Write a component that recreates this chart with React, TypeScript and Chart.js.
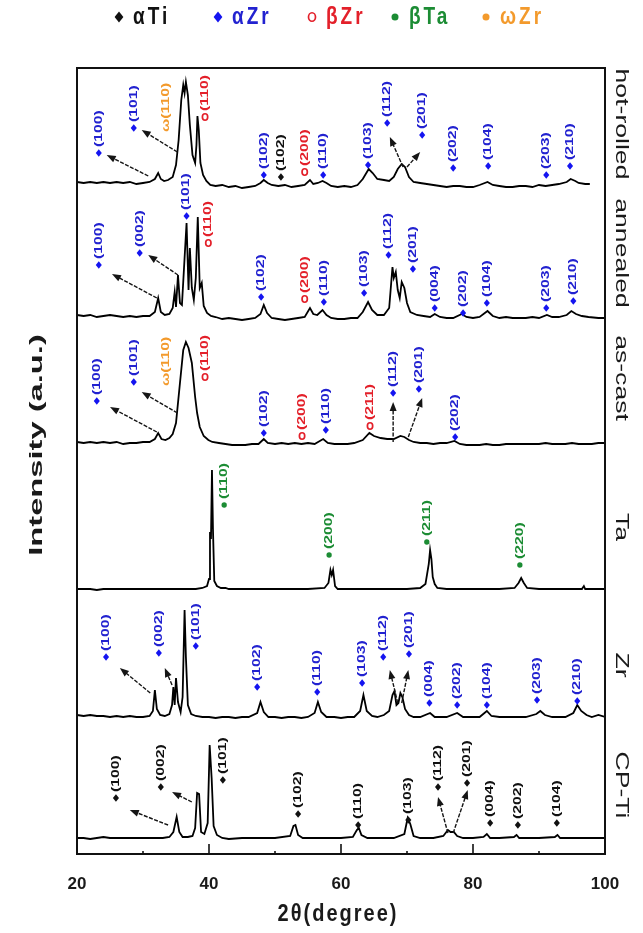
import React, { useEffect, useRef } from 'react';
import { Chart, registerables } from 'chart.js';

Chart.register(...registerables);

// ---------- data (x = 2θ, y = intensity above each pattern's baseline) ----------
const xTickLabels = ['20', '40', '60', '80', '100'];
const panelNames = ['hot-rolled', 'annealed', 'as-cast', 'Ta', 'Zr', 'CP-Ti'];
const panelOffsets = [669, 536, 411, 265, 137, 16];
const panelNameY = [730, 601, 476, 327, 189, 69];

const hotRolled = [
  [20, 3], [21, 2], [22, 3], [23, 2], [24, 3], [25, 2], [26, 3], [27, 2], [28, 3], [29, 1], [30, 2], [31, 3],
  [31.8, 6], [32.3, 12], [32.7, 6], [33.2, 4], [33.8, 5], [34.5, 8], [35.0, 20], [35.4, 45], [35.8, 85],
  [36.1, 100], [36.3, 92], [36.5, 103], [36.8, 90], [37.1, 60], [37.5, 30], [37.9, 22], [38.1, 40],
  [38.25, 69], [38.45, 55], [38.7, 22], [39.1, 10], [39.6, 4], [40.2, 0], [41, -1], [42, 0], [43, -2],
  [44, -1], [45, -3], [46, -2], [47, -1], [47.8, 2], [48.3, 5], [48.9, 2], [49.5, 0], [50.5, -1], [51.5, 0],
  [52.5, -2], [53.5, -1], [54.5, 0], [55.3, 5], [55.8, 1], [56.5, 2], [57.2, 4], [57.8, 2], [58.5, -1],
  [59.5, -2], [60.5, -1], [61.5, -2], [62.5, 0], [63.3, 6], [64.2, 16], [64.8, 12], [65.5, 6], [66.5, 5],
  [67.3, 4], [68.0, 8], [68.6, 16], [69.2, 21], [69.7, 18], [70.3, 8], [71, 3], [72, 2], [73, 1], [74, 0],
  [75, -1], [76, -2], [77, -1], [78, -1], [79, -2], [80, -2], [81, 0], [82.2, 3], [83, 0], [84, -1], [85, -2],
  [86, -2], [87, -1], [88, -1], [89, -2], [90, 0], [91, -1], [92, 0], [93, 1], [94.2, 3], [94.8, 6],
  [95.5, 4], [96, 2], [97, 1], [97.7, 1],
];

const annealed = [
  [20, 3], [21, 2], [22, 3], [23, 1], [24, 2], [25, 3], [26, 2], [27, 1], [28, 2], [29, 1], [30, 2], [31, 2],
  [31.8, 6], [32.3, 20], [32.7, 6], [33.3, 3], [34.0, 4], [34.5, 10], [34.8, 26], [35.0, 11], [35.3, 43],
  [35.6, 15], [35.9, 13], [36.3, 60], [36.6, 95], [36.9, 28], [37.1, 70], [37.4, 30], [37.7, 18], [38.0, 40],
  [38.3, 101], [38.6, 30], [38.9, 35], [39.2, 12], [39.7, 5], [40.3, 2], [41, 1], [42, -1], [43, 0], [44, -1],
  [45, -2], [46, -1], [47, 0], [47.8, 4], [48.3, 13], [48.8, 5], [49.5, 0], [50.5, -1], [51.5, -2],
  [52.5, -1], [53.5, 0], [54.5, 1], [55.3, 10], [55.8, 4], [56.4, 3], [57.2, 8], [57.8, 3], [58.5, 0],
  [59.5, -1], [60.5, -1], [61.5, 0], [62.5, 0], [63.3, 6], [64.1, 16], [64.7, 8], [65.5, 3], [66.5, 3],
  [67.3, 10], [67.8, 51], [68.0, 40], [68.3, 46], [68.6, 28], [68.9, 20], [69.2, 36], [69.6, 30], [70.0, 15],
  [70.5, 6], [71.5, 3], [72.5, 2], [73.5, 1], [74.2, 4], [75, 1], [76, 0], [77, 0], [78.3, 4], [79, 1],
  [80, 0], [81, 1], [82.2, 7], [83, 2], [84, 0], [85, 1], [86, 0], [87, 0], [88, 0], [89, 1], [90, 0],
  [91.2, 3], [92, 1], [93, 1], [94.2, 3], [94.9, 7], [95.6, 4], [96.5, 2], [97.5, 1], [99, 0], [100, 0],
];

const asCast = [
  [20, 1], [21, 0], [22, 1], [23, 0], [24, 1], [25, 0], [26, 1], [27, -1], [28, 0], [29, 0], [30, 1], [31, 1],
  [31.8, 4], [32.3, 10], [32.8, 4], [33.4, 3], [34.0, 5], [34.5, 9], [35.0, 20], [35.6, 60], [36.1, 93],
  [36.5, 101], [36.9, 95], [37.4, 80], [37.9, 46], [38.2, 30], [38.6, 16], [39.2, 7], [39.9, 3], [40.5, 1],
  [41.5, 0], [42.5, -1], [43.5, -2], [44.5, -2], [45.5, -2], [46.5, -1], [47.5, -1], [48.3, 4], [48.9, 0],
  [50, -1], [51, 0], [52, -1], [53, 0], [54, -1], [55, 0], [56, -1], [57.3, 4], [58, 0], [59, -1], [60, -1],
  [61, -1], [62, 0], [63.3, 3], [64.3, 10], [65.0, 7], [66.0, 5], [67.0, 4], [68.0, 4], [69.0, 7], [69.6, 6],
  [70.3, 3], [71, 1], [72, 0], [73, 0], [74, -1], [75, 0], [76, 0], [77.2, 2], [78, -1], [79, -2], [80, -2],
  [81, -2], [82, -1], [83, -2], [84, -2], [85, -1], [86, -1], [87, -1], [88, -1], [89, -1], [90, -1],
  [91, 0], [92, -1], [93, -1], [94, -1], [95, 0], [96, -1], [97, -1], [98, -1], [99, 0], [100, 0],
];

const ta = [
  [20, 0], [21, 0], [22, 0], [23, -1], [24, 0], [25, 0], [26, 0], [27, 0], [28, 0], [29, 0], [30, 0], [31, 0],
  [32, 0], [33, 0], [34, 0], [35, 0], [36, 0], [37, 0], [38, 0], [39, 1], [39.7, 3], [40.0, 10], [40.15, 57],
  [40.3, 50], [40.45, 119], [40.6, 60], [40.8, 8], [41.2, 3], [41.8, 1], [42.5, 1], [43, 0], [45, 0],
  [50, 0], [55, 0], [57.5, 1], [58.1, 6], [58.4, 19], [58.6, 14], [58.8, 19], [59.1, 3], [59.5, 0],
  [62, 0], [66, 0], [70, 0], [72, 1], [72.8, 5], [73.3, 25], [73.5, 39], [73.7, 30], [73.9, 12], [74.2, 5],
  [74.6, 1], [76, 0], [80, 0], [84, 0], [86.3, 1], [86.9, 6], [87.3, 11], [87.7, 6], [88.2, 1], [90, 0],
  [95, 0], [96.5, 0], [96.8, 3], [97.0, 0], [100, 0],
];

const zr = [
  [20, 2], [21, 1], [22, 2], [23, 1], [24, 1], [25, 0], [26, 1], [27, 0], [28, 1], [29, 0], [30, 0], [31, 1],
  [31.5, 6], [31.8, 27], [32.1, 8], [32.6, 2], [33.3, 1], [34.0, 3], [34.4, 12], [34.6, 30], [34.8, 12],
  [35.0, 39], [35.3, 15], [35.7, 5], [36.0, 20], [36.3, 107], [36.5, 60], [36.8, 12], [37.3, 3], [38, 1],
  [39, 0], [40, 0], [41, -1], [42, 0], [43, 0], [44, -1], [45, 0], [46, 0], [47.3, 4], [47.8, 15], [48.3, 5],
  [49, 0], [50, 0], [51, -1], [52, 0], [53, 0], [54, -1], [55, 0], [56.0, 4], [56.5, 15], [57.0, 5],
  [57.8, 0], [59, 0], [60, -1], [61, 0], [62, 0], [62.9, 6], [63.4, 22], [63.9, 6], [64.7, 1], [65.5, 0],
  [66.5, 2], [67.3, 6], [67.8, 22], [68.1, 26], [68.4, 12], [68.7, 14], [69.0, 24], [69.3, 20], [69.7, 8],
  [70.3, 2], [71, 0], [72, 0], [73.5, 4], [74.2, 0], [75, 0], [76, 0], [77.6, 4], [78.5, 0], [80, 0],
  [81, 0], [82.1, 6], [82.8, 1], [84, 0], [86, 0], [88, 0], [89.6, 3], [90.2, 6], [90.9, 2], [92, 0],
  [94, 0], [95.2, 4], [95.8, 12], [96.4, 6], [97.2, 2], [98, 0], [99, 2], [100, 0],
];

const cpTi = [
  [20, 0], [21, 0], [22, -1], [23, 0], [24, 1], [25, 0], [26, 0], [27, 0], [28, 0], [29, 0], [30, 0], [31, 0],
  [32, 0], [33, 0], [34, 1], [34.6, 6], [35.1, 21], [35.5, 6], [36, 1], [36.8, 1], [37.5, 2], [37.9, 10],
  [38.2, 45], [38.5, 44], [38.8, 6], [39.3, 4], [39.8, 15], [40.1, 93], [40.4, 60], [40.7, 12], [41.2, 3],
  [42, 0], [43, -1], [45, 0], [48, 0], [50, 0], [52.3, 2], [52.8, 12], [53.1, 13], [53.5, 3], [54.2, 0],
  [56, 0], [58, 0], [60, 0], [61.8, 1], [62.4, 8], [62.7, 10], [63.1, 3], [64, 0], [66, 0], [68, 0],
  [69.6, 4], [70.1, 20], [70.5, 14], [71, 2], [72, 0], [74, 0], [75.5, 2], [76.2, 8], [76.6, 6], [77.1, 6],
  [77.6, 2], [78.5, 0], [80, 0], [81.6, 1], [82.1, 4], [82.6, 0], [84, 0], [86.2, 1], [86.6, 3], [87, 0],
  [88, 0], [90, 0], [92.4, 1], [92.8, 3], [93.2, 0], [95, 0], [97, 0], [100, 0],
];

const patterns = [hotRolled, annealed, asCast, ta, zr, cpTi];

// peak labels: [2θ, y of marker (chart units), phase, hkl]
const peakLabels: [number, number, string, string][] = [
  // hot-rolled
  [23.3, 701, 'aZr', '(100)'], [28.6, 726, 'aZr', '(101)'], [33.5, 726, 'wZr', '(110)'], [39.4, 737, 'bZr', '(110)'],
  [48.3, 679, 'aZr', '(102)'], [50.9, 677, 'aTi', '(102)'], [54.5, 682, 'bZr', '(200)'], [57.3, 679, 'aZr', '(110)'],
  [64.1, 689, 'aZr', '(103)'], [67.0, 731, 'aZr', '(112)'], [72.3, 719, 'aZr', '(201)'], [77.0, 686, 'aZr', '(202)'],
  [82.3, 688, 'aZr', '(104)'], [91.1, 679, 'aZr', '(203)'], [94.7, 688, 'aZr', '(210)'],
  // annealed
  [23.3, 589, 'aZr', '(100)'], [29.5, 601, 'aZr', '(002)'], [36.6, 638, 'aZr', '(101)'], [39.9, 611, 'bZr', '(110)'],
  [47.9, 557, 'aZr', '(102)'], [54.5, 555, 'bZr', '(200)'], [57.4, 552, 'aZr', '(110)'], [63.5, 561, 'aZr', '(103)'],
  [67.2, 599, 'aZr', '(112)'], [70.9, 585, 'aZr', '(201)'], [74.2, 546, 'aZr', '(004)'], [78.5, 541, 'aZr', '(202)'],
  [82.1, 551, 'aZr', '(104)'], [91.1, 546, 'aZr', '(203)'], [95.2, 553, 'aZr', '(210)'],
  // as-cast
  [23.0, 453, 'aZr', '(100)'], [28.6, 472, 'aZr', '(101)'], [33.5, 472, 'wZr', '(110)'], [39.4, 477, 'bZr', '(110)'],
  [48.3, 421, 'aZr', '(102)'], [54.1, 418, 'bZr', '(200)'], [57.7, 424, 'aZr', '(110)'], [64.4, 428, 'bZr', '(211)'],
  [67.9, 461, 'aZr', '(112)'], [71.8, 465, 'aZr', '(201)'], [77.3, 417, 'aZr', '(202)'],
  // Ta
  [42.3, 349, 'bTa', '(110)'], [58.2, 299, 'bTa', '(200)'], [73.0, 312, 'bTa', '(211)'], [87.1, 289, 'bTa', '(220)'],
  // Zr
  [24.4, 197, 'aZr', '(100)'], [32.4, 201, 'aZr', '(002)'], [38.0, 208, 'aZr', '(101)'], [47.3, 167, 'aZr', '(102)'],
  [56.4, 162, 'aZr', '(110)'], [63.2, 171, 'aZr', '(103)'], [66.4, 197, 'aZr', '(112)'], [70.3, 200, 'aZr', '(201)'],
  [73.4, 151, 'aZr', '(004)'], [77.6, 149, 'aZr', '(202)'], [82.1, 149, 'aZr', '(104)'], [89.7, 154, 'aZr', '(203)'],
  [95.8, 153, 'aZr', '(210)'],
  // CP-Ti
  [25.9, 56, 'aTi', '(100)'], [32.7, 67, 'aTi', '(002)'], [42.1, 74, 'aTi', '(101)'], [53.5, 40, 'aTi', '(102)'],
  [62.6, 29, 'aTi', '(110)'], [70.2, 34, 'aTi', '(103)'], [74.7, 67, 'aTi', '(112)'], [79.1, 71, 'aTi', '(201)'],
  [82.6, 31, 'aTi', '(004)'], [86.8, 29, 'aTi', '(202)'], [92.7, 31, 'aTi', '(104)'],
];

// arrows: [head 2θ, head y, tail 2θ, tail y]
const arrows: [number, number, number, number][] = [
  [24.5, 699, 30.8, 678], [29.8, 724, 35.2, 702], [67.4, 717, 69.4, 687], [72.0, 702, 70.0, 687],
  [25.3, 580, 32.1, 556], [30.8, 599, 35.3, 579],
  [25.0, 447, 32.1, 422], [29.8, 462, 35.2, 441], [67.9, 452, 67.9, 412], [72.3, 456, 70.2, 417],
  [26.5, 186, 31.1, 161], [33.3, 186, 34.4, 169], [67.4, 184, 68.6, 151], [70.2, 184, 69.2, 151],
  [28.0, 44, 33.8, 29], [34.4, 62, 37.4, 52], [74.7, 57, 76.2, 21], [79.2, 64, 77.0, 21],
];

const legendPhases = ['aTi', 'aZr', 'bZr', 'bTa', 'wZr'];
const legendTexts = ['αTi', 'αZr', 'βZr', 'βTa', 'ωZr'];

// ---------- styles ----------
const FONT = '"Liberation Sans", Arial, sans-serif';
const PHASE: Record<string, { mark: string; text: string; kind: string }> = {
  aTi: { mark: '#111111', text: '#111111', kind: 'diamond' },
  aZr: { mark: '#1414f0', text: '#2222d0', kind: 'diamond' },
  bZr: { mark: '#e3202a', text: '#e3202a', kind: 'ring' },
  bTa: { mark: '#1c8c34', text: '#1c8c34', kind: 'dot' },
  wZr: { mark: '#f39a2c', text: '#f39a2c', kind: 'omega' },
};
const LEGEND_X = [119, 218, 312, 395, 486];

function drawMarker(ctx: CanvasRenderingContext2D, kind: string, x: number, y: number, color: string, s: number) {
  ctx.save();
  ctx.fillStyle = color;
  ctx.strokeStyle = color;
  if (kind === 'diamond') {
    ctx.beginPath();
    ctx.moveTo(x, y - s);
    ctx.lineTo(x + s * 0.8, y);
    ctx.lineTo(x, y + s);
    ctx.lineTo(x - s * 0.8, y);
    ctx.closePath();
    ctx.fill();
  } else if (kind === 'ring') {
    ctx.lineWidth = 1.7;
    ctx.beginPath();
    ctx.ellipse(x, y, s * 0.7, s * 0.85, 0, 0, Math.PI * 2);
    ctx.stroke();
  } else {
    ctx.beginPath();
    ctx.arc(x, y, s * 0.7, 0, Math.PI * 2);
    ctx.fill();
  }
  ctx.restore();
}

function stretchedText(
  ctx: CanvasRenderingContext2D, text: string, x: number, y: number, rot: number, sx: number, sy: number,
  font: string, color: string, align: CanvasTextAlign, spacing = '0px'
) {
  ctx.save();
  ctx.translate(x, y);
  ctx.rotate(rot);
  ctx.scale(sx, sy);
  ctx.font = font;
  (ctx as any).letterSpacing = spacing;
  ctx.fillStyle = color;
  ctx.textAlign = align;
  ctx.textBaseline = 'middle';
  ctx.fillText(text, 0, 0);
  ctx.restore();
}

const overlayPlugin = {
  id: 'xrdOverlay',
  afterDraw(chart: any) {
    const { ctx, chartArea: a, scales } = chart;
    const xs = scales.x;
    const ys = scales.y;
    ctx.save();
    // frame
    ctx.strokeStyle = '#111';
    ctx.lineWidth = 2;
    ctx.strokeRect(a.left, a.top, a.right - a.left, a.bottom - a.top);
    // inward ticks
    ctx.lineWidth = 1.6;
    for (const t of xs.ticks) {
      const px = xs.getPixelForValue(t.value);
      const len = t.value % 20 === 0 ? 10 : 3;
      ctx.beginPath();
      ctx.moveTo(px, a.bottom);
      ctx.lineTo(px, a.bottom - len);
      ctx.stroke();
    }
    // arrows
    ctx.strokeStyle = '#151515';
    ctx.fillStyle = '#151515';
    for (const [hx, hy, tx, ty] of arrows) {
      const x1 = xs.getPixelForValue(hx), y1 = ys.getPixelForValue(hy);
      const x2 = xs.getPixelForValue(tx), y2 = ys.getPixelForValue(ty);
      const ang = Math.atan2(y1 - y2, x1 - x2);
      ctx.lineWidth = 1.4;
      ctx.setLineDash([4, 1.5]);
      ctx.beginPath();
      ctx.moveTo(x2, y2);
      ctx.lineTo(x1 - Math.cos(ang) * 5, y1 - Math.sin(ang) * 5);
      ctx.stroke();
      ctx.setLineDash([]);
      ctx.beginPath();
      ctx.moveTo(x1, y1);
      ctx.lineTo(x1 - Math.cos(ang) * 9 + Math.sin(ang) * 3.5, y1 - Math.sin(ang) * 9 - Math.cos(ang) * 3.5);
      ctx.lineTo(x1 - Math.cos(ang) * 9 - Math.sin(ang) * 3.5, y1 - Math.sin(ang) * 9 + Math.cos(ang) * 3.5);
      ctx.closePath();
      ctx.fill();
    }
    // peak labels
    const labFont = `bold 10.5px ${FONT}`;
    for (const [xv, yv, ph, hkl] of peakLabels) {
      const st = PHASE[ph];
      const px = xs.getPixelForValue(xv);
      const py = ys.getPixelForValue(yv);
      if (st.kind === 'omega') {
        stretchedText(ctx, 'ω' + hkl, px, py + 4, -Math.PI / 2, 1.5, 1, labFont, st.text, 'left');
      } else {
        drawMarker(ctx, st.kind, px, py, st.mark, 3.8);
        stretchedText(ctx, hkl, px, py - 6, -Math.PI / 2, 1.5, 1, labFont, st.text, 'left');
      }
    }
    // panel names on the right
    panelNames.forEach((name, i) => {
      stretchedText(ctx, name, 621, ys.getPixelForValue(panelNameY[i]), Math.PI / 2, 1.4, 1,
        `19px ${FONT}`, '#1a1a1a', 'center');
    });
    // legend
    legendTexts.forEach((txt, i) => {
      const st = PHASE[legendPhases[i]];
      const lx = LEGEND_X[i];
      const ly = 17;
      const kind = st.kind === 'omega' ? 'dot' : st.kind;
      drawMarker(ctx, kind, lx, ly, st.mark, kind === 'diamond' ? 5.5 : 5);
      stretchedText(ctx, txt, lx + 14, ly, 0, 1, 1.25, `bold 19px ${FONT}`, st.text, 'left', '3px');
    });
    // axis titles
    stretchedText(ctx, 'Intensity (a.u.)', 37, 445, -Math.PI / 2, 1.72, 1, `bold 19px ${FONT}`, '#1a1a1a', 'center');
    stretchedText(ctx, '2θ(degree)', 338, 915, 0, 1, 1.15, `bold 20px ${FONT}`, '#1a1a1a', 'center', '2px');
    ctx.restore();
  },
};

export default function App() {
  const ref = useRef<HTMLCanvasElement | null>(null);
  useEffect(() => {
    if (!ref.current) return;
    const datasets = patterns.map((series, i) => ({
      label: panelNames[i],
      data: series.map(([xv, yv]) => ({ x: xv, y: yv + panelOffsets[i] })),
      borderColor: '#000000',
      borderWidth: 1.8,
      pointRadius: 0,
      tension: 0,
      fill: false,
    }));
    const chart = new Chart(ref.current, {
      type: 'line',
      data: { datasets },
      plugins: [overlayPlugin],
      options: {
        animation: false,
        responsive: false,
        devicePixelRatio: 1,
        layout: { padding: { top: 68, right: 38, bottom: 0, left: 0 } },
        plugins: { legend: { display: false }, tooltip: { enabled: false } },
        scales: {
          x: {
            type: 'linear',
            min: 20,
            max: 100,
            grid: { display: false, drawTicks: false },
            border: { display: false },
            ticks: {
              stepSize: 10,
              autoSkip: false,
              maxRotation: 0,
              padding: 20,
              color: '#1a1a1a',
              font: { family: FONT, size: 17, weight: 'bold' },
              callback: (v: any) => {
                const s = String(v);
                return xTickLabels.includes(s) ? s : '';
              },
            },
            afterFit: (s: any) => { s.height = 79; },
          },
          y: {
            type: 'linear',
            min: 0,
            max: 786,
            grid: { display: false, drawTicks: false },
            border: { display: false },
            ticks: { display: false },
            afterFit: (s: any) => { s.width = 77; },
          },
        },
      } as any,
    });
    return () => chart.destroy();
  }, []);
  return (
    <div style={{ position: 'absolute', left: 0, top: 0, width: 643, height: 933, background: '#fff' }}>
      <canvas ref={ref} width={643} height={933} style={{ display: 'block' }} />
    </div>
  );
}
